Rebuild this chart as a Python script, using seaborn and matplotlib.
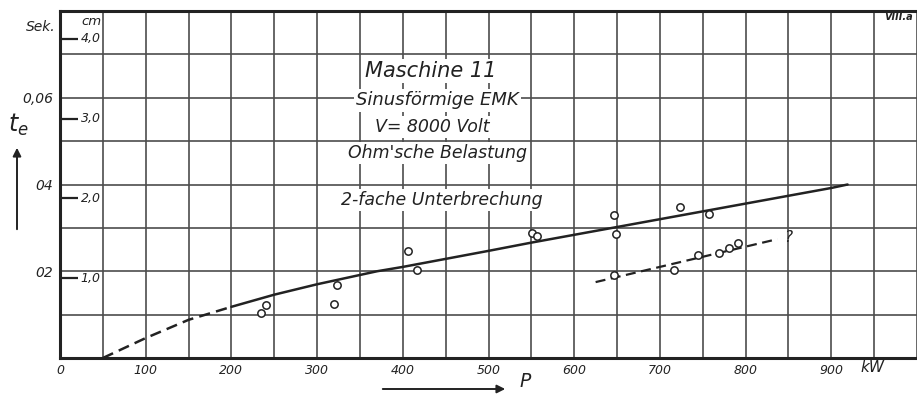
import numpy as np
import pandas as pd
import matplotlib
matplotlib.use("Agg")
import matplotlib.pyplot as plt
import seaborn as sns

# main curve t_e over P (dashed start, solid after 200 kW)
curve_kw = [50, 100, 150, 200, 250, 300, 370, 400, 500, 550, 600, 650, 700, 800, 900, 919]
curve_s = [0.0, 0.0046, 0.0088, 0.0118, 0.0146, 0.0170, 0.0200, 0.0210, 0.0247, 0.0266,
           0.0284, 0.0302, 0.0320, 0.0356, 0.0392, 0.0400]

# measured points near the main curve
upper_kw = [234, 240, 320, 323, 406, 416, 551, 557, 647, 649, 723, 757]
upper_s = [0.0103, 0.0123, 0.0125, 0.0169, 0.0247, 0.0203, 0.0288, 0.0282, 0.0329, 0.0285, 0.0347, 0.0332]

# lower group with dashed trend line
lower_kw = [647, 716, 745, 769, 781, 791]
lower_s = [0.0191, 0.0203, 0.0238, 0.0241, 0.0254, 0.0266]
lower_line_kw = [625, 837]
lower_line_s = [0.0175, 0.0274]

x_ticks = [0, 100, 200, 300, 400, 500, 600, 700, 800, 900]
y_ticks = [0.02, 0.04, 0.06]
y_ticklabels = ["02", "04", "0,06"]
cm_ticks = [1.0, 2.0, 3.0, 4.0]
cm_labels = ["1,0", "2,0", "3,0", "4,0"]
s_per_cm = 0.0184

info_lines = ["Maschine 11", "Sinusförmige EMK", "V= 8000 Volt", "Ohm'sche Belastung"]

ink = "#222222"
grid_col = "#4d4d4d"

sns.set_theme(style="white")
plt.rcParams['font.family'] = ['DejaVu Sans']

fig = plt.figure(figsize=(9.17, 3.94), dpi=100)
ax = fig.add_axes([60 / 917, 36 / 394, 857 / 917, 347 / 394])

curve = pd.DataFrame({"P": curve_kw, "t": curve_s})
dashed = curve[curve.P <= 200]
solid = curve[curve.P >= 200]
sns.lineplot(data=dashed, x="P", y="t", ax=ax, color=ink, lw=1.8, dashes=False,
             linestyle=(0, (4.5, 2.5)), estimator=None)
sns.lineplot(data=solid, x="P", y="t", ax=ax, color=ink, lw=1.8, estimator=None)
sns.lineplot(x=lower_line_kw, y=lower_line_s, ax=ax, color=ink, lw=1.6,
             linestyle=(0, (4.5, 2.5)), estimator=None)

pts = pd.DataFrame({"P": upper_kw + lower_kw, "t": upper_s + lower_s})
sns.scatterplot(data=pts, x="P", y="t", ax=ax, s=28, facecolor="white",
                edgecolor=ink, linewidth=1.1, zorder=5)

ax.text(850, 0.0277, "?", fontsize=11, style="italic", color=ink, ha="center", va="center")

ax.set_xlim(0, 1000)
ax.set_ylim(0, 0.08)
ax.set_xticks(x_ticks)
ax.set_xticklabels([str(v) for v in x_ticks], style="italic", fontsize=9, color=ink)
ax.set_xticks(np.arange(50, 1001, 50), minor=True)
ax.set_yticks(y_ticks)
ax.set_yticklabels(y_ticklabels, style="italic", fontsize=10, color=ink)
ax.set_yticks(np.arange(0.01, 0.081, 0.01), minor=True)
ax.tick_params(which="both", length=0)
ax.tick_params(axis="x", pad=4)
ax.tick_params(axis="y", pad=5)
ax.grid(which="both", color=grid_col, lw=1.2)
ax.set_xlabel("")
ax.set_ylabel("")
for side in ["left", "bottom", "top"]:
    ax.spines[side].set_color(ink)
    ax.spines[side].set_linewidth(2.2)
ax.spines["right"].set_visible(False)

# inner cm scale
cm_s = [c * s_per_cm for c in cm_ticks]
ax.hlines(cm_s, 2, 21, color=ink, lw=1.6, zorder=4)
for y, lab in zip(cm_s, cm_labels):
    ax.text(24, y, lab, fontsize=9, style="italic", color=ink, va="center", ha="left", zorder=4)
ax.text(37, 0.0775, "cm", fontsize=9.5, style="italic", color=ink, ha="center", va="center")
ax.text(-5, 0.0763, "Sek.", fontsize=10, style="italic", color=ink,
        ha="right", va="center", clip_on=False)
ax.text(948, -0.0022, "kW", fontsize=11, style="italic", color=ink, ha="center", va="center",
        clip_on=False)

# description block
box = dict(facecolor="white", edgecolor="none", pad=1.5)
ax.text(432, 0.0661, info_lines[0], fontsize=15, style="italic", color=ink,
        ha="center", va="center", bbox=box, zorder=6)
ax.text(440, 0.0594, info_lines[1], fontsize=13, style="italic", color=ink,
        ha="center", va="center", bbox=box, zorder=6)
ax.text(435, 0.0532, info_lines[2], fontsize=12.5, style="italic", color=ink,
        ha="center", va="center", bbox=box, zorder=6)
ax.text(441, 0.0472, info_lines[3], fontsize=12.5, style="italic", color=ink,
        ha="center", va="center", bbox=box, zorder=6)
ax.text(446, 0.0364, "2-fache Unterbrechung", fontsize=12.5, style="italic", color=ink,
        ha="center", va="center", bbox=box, zorder=6)

# axis names with arrows
fig.text(18 / 917, 1 - 125 / 394, r"$t_e$", fontsize=17, color=ink, ha="center", va="center")
ax.annotate("", xy=(17, 394 - 145), xytext=(17, 394 - 232), xycoords="figure pixels",
            textcoords="figure pixels",
            arrowprops=dict(arrowstyle="-|>", color=ink, lw=1.4, mutation_scale=12))
ax.annotate("", xy=(508, 5), xytext=(380, 5), xycoords="figure pixels",
            textcoords="figure pixels",
            arrowprops=dict(arrowstyle="-|>", color=ink, lw=1.4, mutation_scale=12))
fig.text(525 / 917, 3 / 394, "P", fontsize=13.5, style="italic", color=ink, ha="center",
         va="bottom")
fig.text(884 / 917, 1 - 17 / 394, "VIII.a", fontsize=7, style="italic", weight="bold",
         color=ink, ha="left", va="center")

fig.savefig("out.png", dpi=100)
